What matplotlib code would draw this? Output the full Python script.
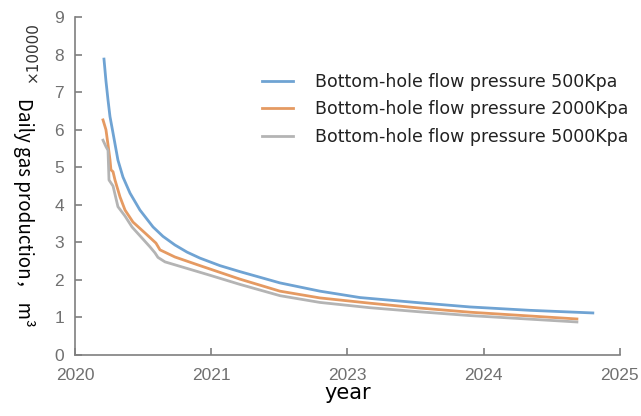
import matplotlib.pyplot as plt

# x is in axis units 0..5; the labelled ticks sit at 0, 1.25, 2.5, 3.75, 5
tick_labels = ['2020', '2021', '2023', '2024', '2025']

# Bottom-hole flow pressure 500Kpa
x_500 = [0.266, 0.284, 0.303, 0.321, 0.349, 0.394, 0.440, 0.505, 0.596, 0.716,
         0.807, 0.917, 1.028, 1.147, 1.330, 1.514, 1.881, 2.248, 2.615, 3.165,
         3.624, 4.174, 4.752]
y_500 = [7.88, 7.30, 6.79, 6.35, 5.91, 5.19, 4.74, 4.31, 3.86, 3.41,
         3.16, 2.93, 2.74, 2.58, 2.38, 2.22, 1.92, 1.70, 1.53, 1.39,
         1.28, 1.19, 1.12]

# Bottom-hole flow pressure 2000Kpa
x_2000 = [0.257, 0.284, 0.303, 0.321, 0.330, 0.349, 0.367, 0.413, 0.459, 0.532,
          0.642, 0.743, 0.780, 0.917, 1.147, 1.514, 1.881, 2.248, 2.706, 3.165,
          3.624, 4.606]
y_2000 = [6.26, 6.00, 5.60, 5.20, 4.93, 4.88, 4.66, 4.21, 3.86, 3.54,
          3.25, 2.98, 2.80, 2.61, 2.38, 2.02, 1.70, 1.52, 1.38, 1.25,
          1.14, 0.96]

# Bottom-hole flow pressure 5000Kpa
x_5000 = [0.257, 0.284, 0.303, 0.312, 0.349, 0.394, 0.459, 0.523, 0.688, 0.734,
          0.761, 0.826, 1.220, 1.514, 1.881, 2.248, 2.706, 3.165, 3.624, 4.606]
y_5000 = [5.72, 5.55, 5.45, 4.66, 4.50, 3.95, 3.70, 3.41, 2.88, 2.72,
          2.60, 2.48, 2.14, 1.88, 1.58, 1.40, 1.26, 1.15, 1.05, 0.88]

fig = plt.figure(figsize=(6.41, 4.16), dpi=100)
ax = fig.add_axes([0.117, 0.1466, 0.85, 0.8125])

ax.plot(x_500, y_500, color='#6fa3d3', lw=2, label='Bottom-hole flow pressure 500Kpa')
ax.plot(x_2000, y_2000, color='#e59a62', lw=2, label='Bottom-hole flow pressure 2000Kpa')
ax.plot(x_5000, y_5000, color='#b4b4b4', lw=2, label='Bottom-hole flow pressure 5000Kpa')

ax.set_xlim(0, 5)
ax.set_ylim(0, 9)
ax.set_xticks([0, 1.25, 2.5, 3.75, 5])
ax.set_xticklabels(tick_labels)
ax.set_yticks(range(10))

for s in ['top', 'right']:
    ax.spines[s].set_visible(False)
for s in ['left', 'bottom']:
    ax.spines[s].set_color('#7f7f7f')
    ax.spines[s].set_linewidth(1.2)

ax.tick_params(direction='in', length=5, width=1.2, color='#7f7f7f',
               labelcolor='#707070', labelsize=12.5)
for lab in ax.get_xticklabels() + ax.get_yticklabels():
    lab.set_family('Liberation Sans')
ax.tick_params(axis='x', pad=9)
ax.tick_params(axis='y', pad=8)

ax.set_xlabel('year', fontsize=15, labelpad=0)
fig.text(0.038, 0.49, 'Daily gas production\uff0c m\u00b3', rotation=-90,
         fontsize=13.5, ha='center', va='center',
         family=['Noto Sans CJK SC', 'DejaVu Sans'])
fig.text(0.05, 0.875, '\u00d710000', rotation=90, fontsize=11,
         ha='center', va='center', color='#333333')

leg = ax.legend(loc='upper left', bbox_to_anchor=(246 / 641, 1 - 57 / 416),
                bbox_transform=fig.transFigure, frameon=False, fontsize=12.5,
                handlelength=1.8, handletextpad=1.3, labelspacing=0.55)
for t in leg.get_texts():
    t.set_color('#222222')

plt.savefig('out.png', dpi=100)
